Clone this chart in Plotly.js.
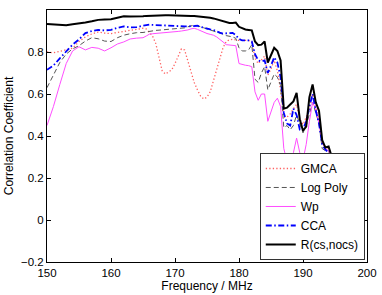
<!DOCTYPE html>
<html><head><meta charset="utf-8">
<script src="https://cdn.plot.ly/plotly-3.0.1.min.js"></script>
<style>html,body{margin:0;padding:0;background:#fff}#c{width:382px;height:295px}</style>
</head><body><div id="c"></div>
<script>
const freq = [150,151,152,153,154,155,156,157,158,159,160,161,162,163,164,165,
  165.5,166,166.5,167,167.5,168,168.5,169,169.5,170,
  170.5,171,171.5,172,172.5,173,173.5,174,174.5,175,
  175.5,176,176.5,177,177.5,178,178.5,179,179.5,180,
  180.5,181,181.5,182,182.5,183,183.5,184,184.5,185,
  185.5,186,186.5,187,187.5,188,188.5,189,189.5,190,
  190.5,191,191.5,192,192.5,193,193.5,194,194.5,195];

const gmca = [0.80,0.796,0.803,0.81,0.818,0.85,0.872,0.886,0.895,0.89,0.888,0.893,0.898,0.903,0.91,0.913,
  0.910,0.895,0.875,0.840,0.770,0.710,0.695,0.705,0.715,0.745,
  0.785,0.815,0.810,0.755,0.700,0.655,0.620,0.590,0.576,0.585,
  0.610,0.665,0.720,0.767,0.820,0.850,0.858,0.860,0.857,0.855,
  0.855,0.855,0.855,0.850,0.770,0.745,0.760,0.780,0.690,0.720,
  0.760,0.710,0.620,0.490,0.490,0.505,0.530,0.550,0.480,0.455,
  0.490,0.530,0.600,0.530,0.470,0.370,0.350,0.340,0.300,0.200];

const logPoly = [0.63,0.687,0.75,0.79,0.815,0.83,0.852,0.868,0.863,0.852,0.85,0.868,0.88,0.887,0.892,0.893,
  0.896,0.898,0.900,0.903,0.904,0.905,0.906,0.907,0.908,0.910,
  0.911,0.912,0.915,0.920,0.925,0.928,0.925,0.920,0.916,0.913,
  0.906,0.900,0.895,0.890,0.885,0.878,0.876,0.872,0.865,0.820,
  0.805,0.805,0.810,0.835,0.670,0.655,0.700,0.730,0.620,0.660,
  0.695,0.680,0.640,0.440,0.450,0.430,0.450,0.500,0.460,0.415,
  0.450,0.510,0.560,0.510,0.460,0.340,0.330,0.330,0.280,0.200];

const wp = [0.45,0.54,0.645,0.745,0.805,0.825,0.81,0.822,0.818,0.805,0.82,0.838,0.848,0.862,0.866,0.868,
  0.876,0.885,0.887,0.888,0.890,0.893,0.894,0.895,0.896,0.897,
  0.898,0.900,0.902,0.905,0.910,0.913,0.908,0.900,0.895,0.888,
  0.884,0.880,0.872,0.862,0.848,0.835,0.834,0.833,0.830,0.745,
  0.740,0.737,0.735,0.730,0.610,0.570,0.600,0.600,0.470,0.510,
  0.560,0.580,0.540,0.340,0.280,0.285,0.320,0.390,0.320,0.285,
  0.360,0.470,0.560,0.530,0.460,0.370,0.340,0.330,0.290,0.190];

const cca = [0.715,0.735,0.77,0.805,0.835,0.86,0.89,0.9,0.905,0.903,0.905,0.915,0.922,0.917,0.918,0.925,
  0.928,0.930,0.929,0.928,0.927,0.927,0.926,0.926,0.925,0.925,
  0.924,0.923,0.922,0.922,0.924,0.926,0.925,0.920,0.915,0.912,
  0.908,0.905,0.898,0.892,0.888,0.888,0.890,0.891,0.880,0.862,
  0.855,0.855,0.855,0.850,0.790,0.760,0.755,0.760,0.700,0.735,
  0.775,0.750,0.680,0.510,0.460,0.450,0.530,0.500,0.430,0.430,
  0.470,0.540,0.600,0.520,0.460,0.360,0.335,0.320,0.280,0.180];

const rcs = [0.933,0.932,0.93,0.927,0.932,0.935,0.94,0.946,0.953,0.955,0.956,0.963,0.97,0.969,0.968,0.97,
  0.972,0.973,0.974,0.975,0.975,0.975,0.975,0.975,0.975,0.974,
  0.974,0.974,0.973,0.973,0.972,0.971,0.970,0.968,0.967,0.965,
  0.963,0.960,0.956,0.952,0.948,0.944,0.938,0.938,0.940,0.920,
  0.912,0.907,0.905,0.903,0.850,0.833,0.835,0.850,0.750,0.785,
  0.820,0.805,0.760,0.530,0.535,0.550,0.565,0.605,0.480,0.425,
  0.445,0.585,0.645,0.560,0.520,0.380,0.345,0.350,0.300,0.200];

const names = ['GMCA','Log Poly','Wp','CCA','R(cs,nocs)'];
const xTicks = [150,160,170,180,190,200];
const yTicks = [-0.2,0,0.2,0.4,0.6,0.8];
const yTickText = ['\u22120.2','0','0.2','0.4','0.6','0.8'];

const series = [gmca, logPoly, wp, cca, rcs];
const styles = [
  {color:'#ff6060', width:1.3, dash:'1.3px,2.2px'},
  {color:'#555555', width:1, dash:'5px,3px'},
  {color:'#ff4dff', width:1, dash:'solid'},
  {color:'#0000ff', width:1.8, dash:'6px,2.5px,1.5px,2.5px'},
  {color:'#000000', width:2, dash:'solid'}
];
const traces = series.map((s,i)=>({
  x: freq, y: s, type:'scatter', mode:'lines', name: names[i], line: styles[i]
}));

const font = {family:'Liberation Sans, Arial, sans-serif', color:'#000'};
const layout = {
  width:382, height:295,
  margin:{l:47, r:15, t:10, b:33, pad:0},
  paper_bgcolor:'#fff', plot_bgcolor:'#fff',
  font: Object.assign({size:11.5}, font),
  showlegend:true,
  xaxis:{range:[150,200], tickvals:xTicks, ticks:'inside', ticklen:4, tickcolor:'#000',
    showline:true, linecolor:'#000', linewidth:1, mirror:'ticks', showgrid:false, zeroline:false,
    tickfont:{size:11.5}, title:{text:'Frequency / MHz', font:{size:12}, standoff:2}},
  yaxis:{range:[-0.2,1.0], tickvals:yTicks, ticktext:yTickText, ticks:'inside', ticklen:4, tickcolor:'#000',
    showline:true, linecolor:'#000', linewidth:1, mirror:'ticks', showgrid:false, zeroline:false,
    tickfont:{size:11.5}, title:{text:'Correlation Coefficient', font:{size:12}, standoff:4}},
  legend:{x:0.993, y:0.008, xanchor:'right', yanchor:'bottom', bgcolor:'#fff',
    bordercolor:'#333', borderwidth:1, font:{size:12}, tracegroupgap:0, itemwidth:30}
};
Plotly.newPlot('c', traces, layout, {displayModeBar:false, staticPlot:true});
</script></body></html>
